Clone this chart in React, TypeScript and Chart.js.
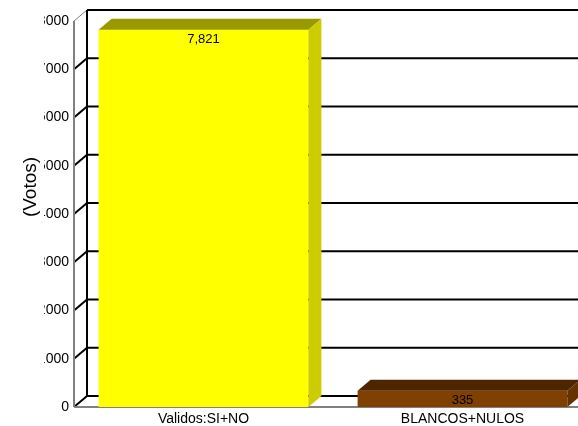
import { useEffect, useRef } from 'react';
import { Chart, registerables } from 'chart.js';
Chart.register(...registerables);

const categories = ['Validos:SI+NO', 'BLANCOS+NULOS'];
const votes = [7821, 335];
const yTicks = [0, 1000, 2000, 3000, 4000, 5000, 6000, 7000, 8000];
const yTitle = '(Votos)';

const frontColors = ['#ffff00', '#804000'];
const sideColors = ['#cccc00', '#663300'];
const topColors = ['#999900', '#4d2600'];

const DX = 13;
const DY = -11;
const FONT = '"Liberation Sans", Arial, sans-serif';

function line(ctx: CanvasRenderingContext2D, x1: number, y1: number, x2: number, y2: number, color: string, w: number) {
  ctx.beginPath();
  ctx.moveTo(x1, y1);
  ctx.lineTo(x2, y2);
  ctx.strokeStyle = color;
  ctx.lineWidth = w;
  ctx.stroke();
}

const threeD = {
  id: 'threeD',
  beforeDatasetsDraw(chart: any) {
    const { ctx, chartArea } = chart;
    const y = chart.scales.y;
    const L = chartArea.left;
    const R = chart.width;
    const y0 = y.getPixelForValue(yTicks[0]);
    const yTop = y.getPixelForValue(yTicks[yTicks.length - 1]);
    ctx.save();
    yTicks.forEach((v, i) => {
      const py = y.getPixelForValue(v);
      line(ctx, L + DX, py + DY, R, py + DY, '#000', 2);
      if (i === yTicks.length - 1) {
        line(ctx, L, py, L + DX, py + DY, '#808080', 1);
      } else {
        line(ctx, L, py, L + DX, py + DY, '#000', 2);
      }
    });
    line(ctx, L + DX, y0 + DY, L + DX, yTop + DY, '#000', 2);
    line(ctx, L, y0, L, yTop, '#808080', 2);
    line(ctx, L, y0, R, y0, '#808080', 2);
    ctx.restore();
  },
  afterDatasetsDraw(chart: any) {
    const { ctx } = chart;
    const meta = chart.getDatasetMeta(0);
    ctx.save();
    meta.data.forEach((bar: any, i: number) => {
      const { x, y, base, width } = bar.getProps(['x', 'y', 'base', 'width'], true);
      const l = x - width / 2;
      const r = x + width / 2;
      ctx.beginPath();
      ctx.moveTo(l, y);
      ctx.lineTo(l + DX, y + DY);
      ctx.lineTo(r + DX, y + DY);
      ctx.lineTo(r, y);
      ctx.closePath();
      ctx.fillStyle = topColors[i];
      ctx.fill();
      ctx.beginPath();
      ctx.moveTo(r, y);
      ctx.lineTo(r + DX, y + DY);
      ctx.lineTo(r + DX, base + DY);
      ctx.lineTo(r, base);
      ctx.closePath();
      ctx.fillStyle = sideColors[i];
      ctx.fill();
      ctx.fillStyle = '#000';
      ctx.font = `13px ${FONT}`;
      ctx.textAlign = 'center';
      ctx.textBaseline = 'middle';
      ctx.fillText(votes[i].toLocaleString('en-US'), x, y + 10);
    });
    ctx.restore();
  },
  afterDraw(chart: any) {
    const { ctx, chartArea } = chart;
    ctx.save();
    ctx.fillStyle = '#fff';
    ctx.fillRect(0, 0, 44, chartArea.bottom - 12);
    ctx.translate(31, 187);
    ctx.rotate(-Math.PI / 2);
    ctx.fillStyle = '#000';
    ctx.font = `19px ${FONT}`;
    ctx.textAlign = 'center';
    ctx.textBaseline = 'middle';
    ctx.fillText(yTitle, 0, 0);
    ctx.restore();
  },
};

export default function App() {
  const ref = useRef<HTMLCanvasElement>(null);
  useEffect(() => {
    if (!ref.current) return;
    const chart = new Chart(ref.current, {
      type: 'bar',
      data: {
        labels: categories,
        datasets: [
          {
            data: votes,
            backgroundColor: frontColors,
            borderWidth: 0,
            barPercentage: 0.81,
            categoryPercentage: 1,
          },
        ],
      },
      options: {
        responsive: false,
        animation: false,
        devicePixelRatio: 1,
        layout: { padding: { top: 21, left: 0, right: 8, bottom: 0 } },
        plugins: { legend: { display: false }, tooltip: { enabled: false } },
        scales: {
          x: {
            grid: { display: false, drawTicks: false },
            border: { display: false },
            ticks: { color: '#000', font: { family: FONT, size: 14 }, padding: 4, maxRotation: 0 },
            afterFit: (s: any) => {
              s.height = 19;
            },
          },
          y: {
            min: yTicks[0],
            max: yTicks[yTicks.length - 1],
            grid: { display: false, drawTicks: false },
            border: { display: false },
            ticks: {
              stepSize: 1000,
              color: '#000',
              font: { family: FONT, size: 14 },
              padding: 5,
              callback: (v: any) => String(v),
            },
            afterFit: (s: any) => {
              s.width = 74;
            },
          },
        },
      },
      plugins: [threeD],
    });
    return () => chart.destroy();
  }, []);
  return (
    <div style={{ position: 'fixed', left: 0, top: 0, width: 578, height: 426, overflow: 'hidden', background: '#fff' }}>
      <canvas ref={ref} width={600} height={426} style={{ display: 'block' }} />
    </div>
  );
}
